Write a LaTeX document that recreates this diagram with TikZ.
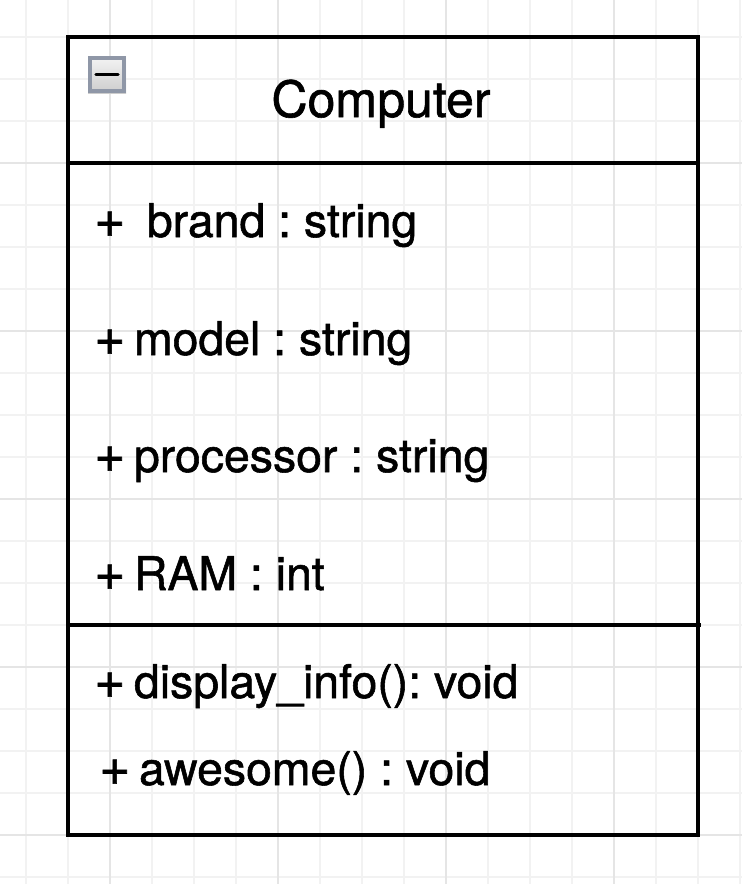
\documentclass[tikz,border=0pt]{standalone}
\usepackage{fontspec}
\usepackage{graphicx}
\setmainfont{TeX Gyre Heros}
\newfontfamily\heavyfam{TeX Gyre Heros}[BoldFont=TeX Gyre Heros,BoldFeatures={FakeBold=1.2}]
\newcommand\umlplus{\makebox[26.9pt][l]{\scalebox{1.15}{+}}}
\begin{document}
\frenchspacing
\begin{tikzpicture}[x=1pt,y=-1pt,
  minorgrid/.style={draw=black!5,line width=1.2pt},
  majorgrid/.style={draw=black!10,line width=1.5pt},
  umlline/.style={draw=black,line width=4pt},
  attr/.style={anchor=base west,inner sep=0pt,font=\heavyfam\bfseries\fontsize{46.4}{50}\selectfont},
  titletext/.style={anchor=base,inner sep=0pt,font=\heavyfam\bfseries\fontsize{50}{54}\selectfont}]
\useasboundingbox (0,0) rectangle (742,884);
\fill[white] (0,0) rectangle (742,884);
% grid
\foreach \i in {0,...,17} {\draw[minorgrid] (26+42*\i,0) -- (26+42*\i,884);}
\foreach \i in {0,...,20} {\draw[minorgrid] (0,37+42*\i) -- (742,37+42*\i);}
\foreach \i in {0,...,3} {\draw[majorgrid] (110+168*\i,0) -- (110+168*\i,884);}
\foreach \i in {0,...,4} {\draw[majorgrid] (0,163+168*\i) -- (742,163+168*\i);}
% class box
\coordinate (tl) at (68,37);
\coordinate (br) at (698,835);
\draw[umlline,line join=miter] (tl) rectangle (br);
\draw[umlline] (68,163) -- (698,163);
\draw[draw=black,line width=3.2pt] (68,625) -- (701,625);
% collapse icon
\shade[top color=white!96!black,bottom color=black!20] (88,56) rectangle (126,93);
\draw[draw={rgb,255:red,143;green,151;blue,167},line width=4pt] (90,58) rectangle (124,91);
\draw[line width=3.5pt,line cap=round] (96,74.5) -- (118,74.5);
% texts
\node[titletext] (title) at (381,117) {Computer};
\node[attr] (a1) at (94,237) {\umlplus\ \ brand : string};
\node[attr] (a2) at (94,355) {\umlplus\ model : string};
\node[attr] (a3) at (94,472) {\umlplus\ processor : string};
\node[attr] (a4) at (94,590) {\umlplus\ RAM : int};
\node[attr] (m1) at (94,698) {\umlplus\ display\_info(): void};
\node[attr] (m2) at (99,785) {\umlplus\ awesome() : void};
\end{tikzpicture}
\end{document}
